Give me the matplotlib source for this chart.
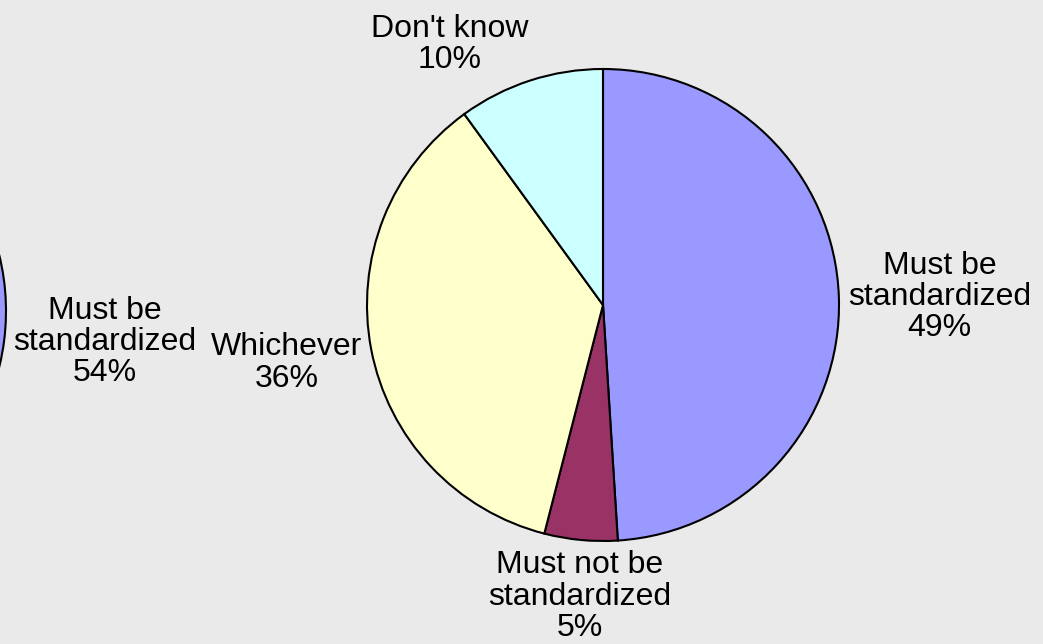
import numpy as np
import matplotlib
matplotlib.use("Agg")
import matplotlib.pyplot as plt

# Survey answers: share of respondents per opinion (percent)
right_labels = ["Must be\nstandardized", "Must not be\nstandardized", "Whichever", "Don't know"]
right_values = [49, 5, 36, 10]
right_colors = ["#9999FF", "#993366", "#FFFFCC", "#CCFFFF"]

# Neighbouring pie, of which only the first slice falls inside the canvas
left_labels = ["Must be\nstandardized"]
left_values = [54]
left_colors = ["#9999FF"]

W, H, DPI = 1043, 644, 100
BG = "#EAEAEA"
FONT = dict(family=["Liberation Sans", "DejaVu Sans"], size=23)

fig = plt.figure(figsize=(W / DPI, H / DPI), dpi=DPI, facecolor=BG)
ax = fig.add_axes([0, 0, 1, 1])

RADIUS = 236
right_center = (603, H - 305)
left_center = (-230, H - 311)
wedge_style = dict(edgecolor="black", linewidth=1.5)


def draw_pie(values, colors, center):
    ax.pie([v / 100 for v in values], colors=colors, startangle=90,
           counterclock=False, center=center, radius=RADIUS,
           normalize=False, wedgeprops=wedge_style, frame=True)


def label_pie(values, labels, center):
    start = 90.0
    for v, lab in zip(values, labels):
        span = 360.0 * v / 100
        mid = np.deg2rad(start - span / 2)
        start -= span
        c, s = np.cos(mid), np.sin(mid)
        gap = 9 + (-3.2 if s > 0 else 1.5) * abs(s)
        r = RADIUS + gap
        x = center[0] + r * c
        y = center[1] + r * s
        ha = "left" if c > 0.3 else ("right" if c < -0.3 else "center")
        va = "bottom" if s > 0.5 else ("top" if s < -0.5 else "center")
        if va == "center" and s < -0.15:
            y -= 12 * abs(s) / 0.187
        ax.text(x, y, f"{lab}\n{v}%", ha=ha, va=va, multialignment="center",
                linespacing=1.05, color="black", **FONT)


draw_pie(right_values, right_colors, right_center)
draw_pie(left_values, left_colors, left_center)
label_pie(right_values, right_labels, right_center)
label_pie(left_values, left_labels, left_center)

ax.set_xlim(0, W)
ax.set_ylim(0, H)
ax.set_aspect("equal")
ax.axis("off")

fig.savefig("out.png", dpi=DPI, facecolor=BG)
